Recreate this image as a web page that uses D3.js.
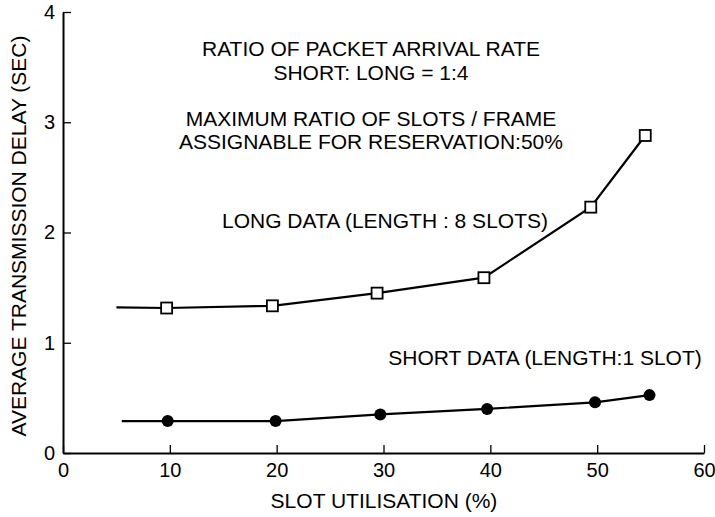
<!DOCTYPE html>
<html lang="en">
<head>
<meta charset="utf-8">
<title>Average transmission delay vs slot utilisation</title>
<script src="https://d3js.org/d3.v7.min.js"></script>
<style>
  body { margin: 0; background: #fff; }
  text { font-family: "Liberation Sans", Arial, Helvetica, sans-serif; fill: #000; }
</style>
</head>
<body>
<script>
// values
var longX  = [5, 9.7, 19.6, 29.4, 39.4, 49.4, 54.5];
var longY  = [1.32, 1.315, 1.335, 1.45, 1.59, 2.23, 2.88];
var longMarked = [false, true, true, true, true, true, true];

var shortX = [5.5, 9.8, 19.9, 29.7, 39.7, 49.8, 54.9];
var shortY = [0.29, 0.29, 0.29, 0.35, 0.40, 0.46, 0.525];
var shortMarked = [false, true, true, true, true, true, true];

var xTicks = [0, 10, 20, 30, 40, 50, 60];
var yTicks = [0, 1, 2, 3, 4];

var notes = [
  "RATIO OF PACKET ARRIVAL RATE",
  "SHORT: LONG = 1:4",
  "MAXIMUM RATIO OF SLOTS / FRAME",
  "ASSIGNABLE FOR RESERVATION:50%"
];

var width = 715, height = 517;
var margin = {top: 12, right: 11, bottom: 64, left: 63};
var w = width - margin.left - margin.right;
var h = height - margin.top - margin.bottom;

var svg = d3.select("body").append("svg")
    .attr("width", width)
    .attr("height", height);

var g = svg.append("g")
    .attr("transform", "translate(" + margin.left + "," + margin.top + ")");

var x = d3.scaleLinear().domain([0, 60]).range([0, w]);
var y = d3.scaleLinear().domain([0, 4]).range([h, 0]);

// axes, ticks pointing inward
var xAxis = g.append("g")
    .attr("transform", "translate(0," + h + ")")
    .call(d3.axisBottom(x).tickValues(xTicks).tickFormat(d3.format("d"))
      .tickSizeInner(-8).tickSizeOuter(0).tickPadding(10));

var yAxis = g.append("g")
    .call(d3.axisLeft(y).tickValues(yTicks).tickFormat(d3.format("d"))
      .tickSizeInner(-8).tickSizeOuter(0).tickPadding(8));

[xAxis, yAxis].forEach(function(a) {
  a.select(".domain").attr("stroke", "#000").attr("stroke-width", 2);
  a.selectAll(".tick line").attr("stroke", "#000").attr("stroke-width", 1.3);
  a.selectAll(".tick text")
    .attr("font-family", null)
    .attr("font-size", 20)
    .attr("fill", "#000");
});

// axis titles
svg.append("text")
    .attr("x", 384)
    .attr("y", 508)
    .attr("text-anchor", "middle")
    .attr("font-size", 21)
    .text("SLOT UTILISATION (%)");

svg.append("text")
    .attr("transform", "translate(26,236) rotate(-90)")
    .attr("text-anchor", "middle")
    .attr("font-size", 21)
    .text("AVERAGE TRANSMISSION DELAY (SEC)");

// series lines
var line = d3.line()
    .x(function(d) { return x(d[0]); })
    .y(function(d) { return y(d[1]); });

var longPts = longX.map(function(v, i) { return [v, longY[i], longMarked[i]]; });
var shortPts = shortX.map(function(v, i) { return [v, shortY[i], shortMarked[i]]; });

g.append("path")
    .datum(longPts)
    .attr("d", line)
    .attr("fill", "none")
    .attr("stroke", "#000")
    .attr("stroke-width", 2.2);

g.append("path")
    .datum(shortPts)
    .attr("d", line)
    .attr("fill", "none")
    .attr("stroke", "#000")
    .attr("stroke-width", 2.2);

// markers
var sq = 11;
g.selectAll(".sq")
    .data(longPts.filter(function(d) { return d[2]; }))
    .enter().append("rect")
    .attr("class", "sq")
    .attr("x", function(d) { return x(d[0]) - sq / 2; })
    .attr("y", function(d) { return y(d[1]) - sq / 2; })
    .attr("width", sq)
    .attr("height", sq)
    .attr("fill", "#fff")
    .attr("stroke", "#000")
    .attr("stroke-width", 1.8);

g.selectAll(".dot")
    .data(shortPts.filter(function(d) { return d[2]; }))
    .enter().append("circle")
    .attr("class", "dot")
    .attr("cx", function(d) { return x(d[0]); })
    .attr("cy", function(d) { return y(d[1]); })
    .attr("r", 6)
    .attr("fill", "#000");

// annotations
var noteY = [48, 72, 118, 141];
svg.selectAll(".note")
    .data(notes)
    .enter().append("text")
    .attr("class", "note")
    .attr("x", 371)
    .attr("y", function(d, i) { return noteY[i] + 8; })
    .attr("text-anchor", "middle")
    .attr("font-size", 21)
    .text(function(d) { return d; });

svg.append("text")
    .attr("x", 385)
    .attr("y", 228)
    .attr("text-anchor", "middle")
    .attr("font-size", 21)
    .text("LONG DATA (LENGTH : 8 SLOTS)");

svg.append("text")
    .attr("x", 545)
    .attr("y", 365)
    .attr("text-anchor", "middle")
    .attr("font-size", 21)
    .text("SHORT DATA (LENGTH:1 SLOT)");
</script>
</body>
</html>
